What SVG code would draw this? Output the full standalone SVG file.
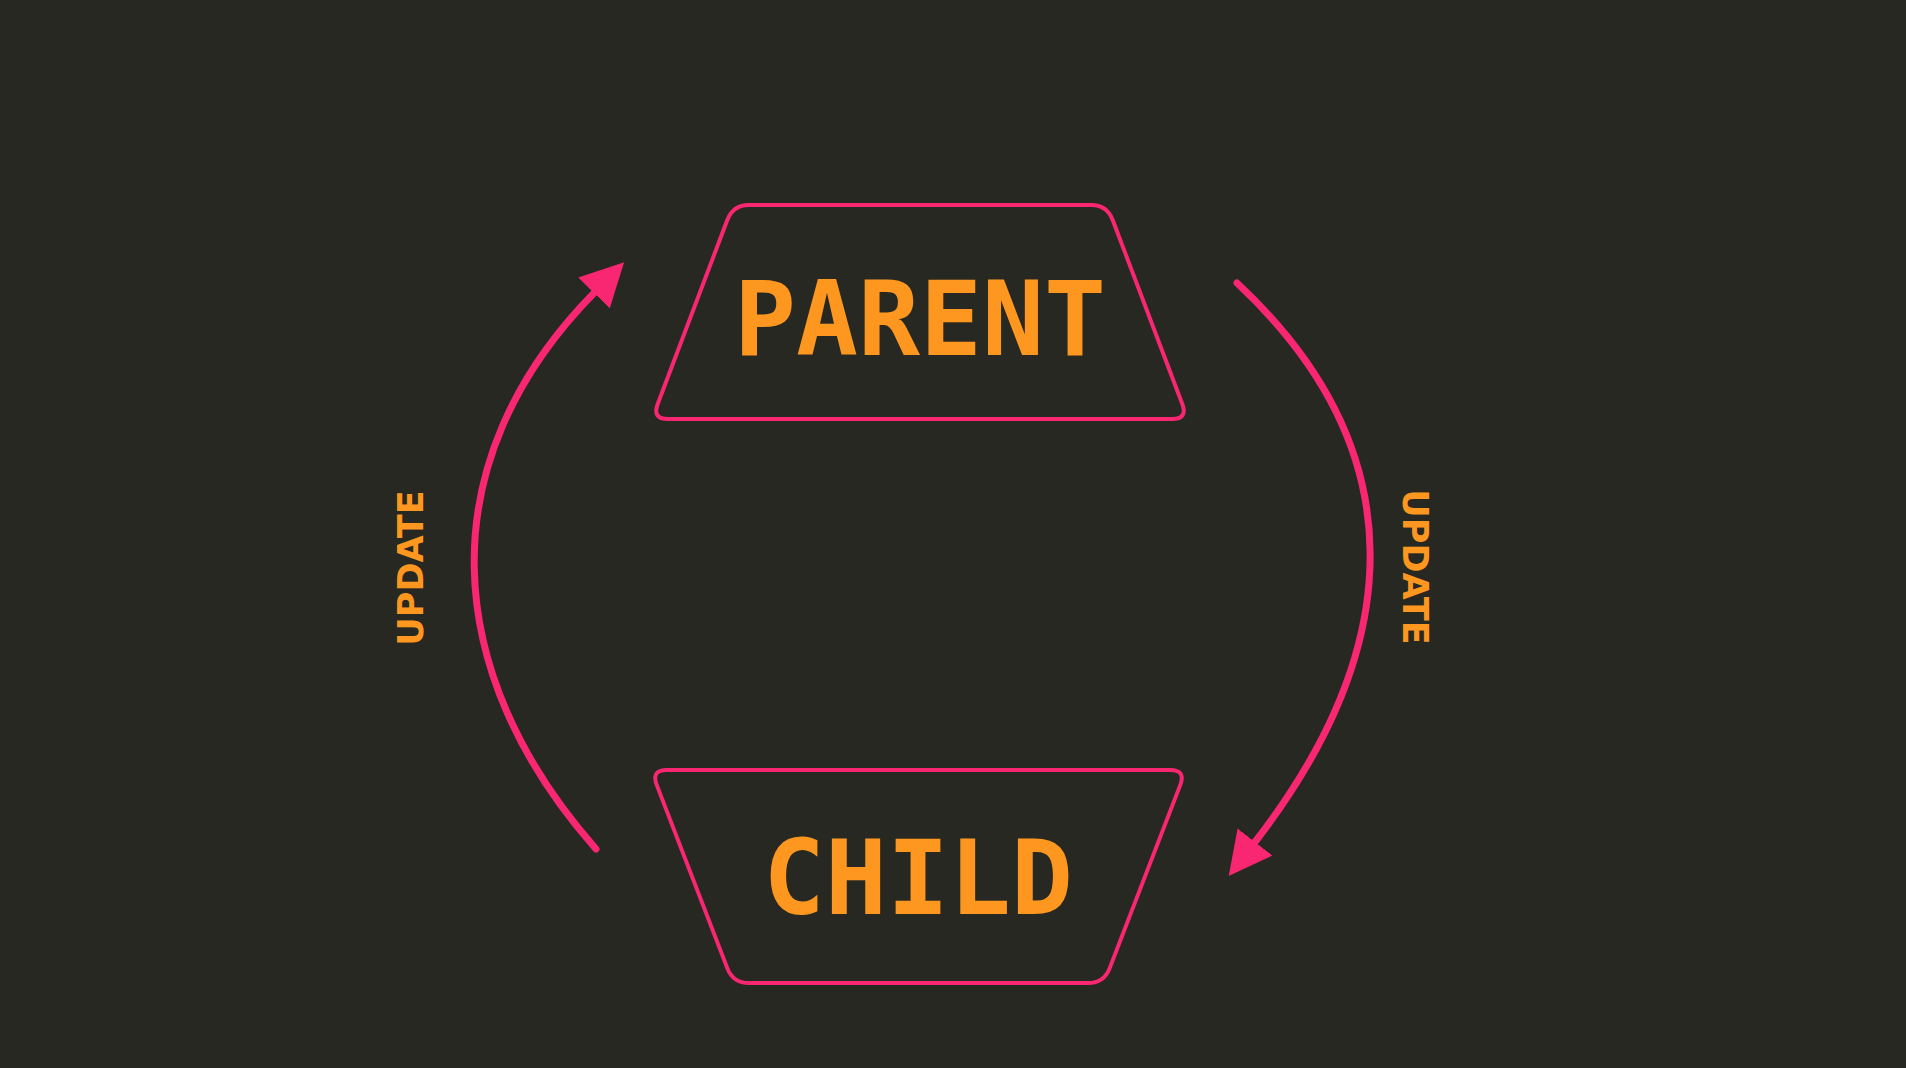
<svg xmlns="http://www.w3.org/2000/svg" width="1906" height="1068" viewBox="0 0 1906 1068">
<style>
.node{fill:#272822;stroke:#F92672;stroke-width:4;stroke-linejoin:round}
.title{font-family:"DejaVu Sans Mono",monospace;font-weight:bold;font-size:103px;fill:#FD971F;text-anchor:middle}
.lbl{font-family:"DejaVu Sans",sans-serif;font-weight:bold;font-size:35px;fill:#FD971F;text-anchor:middle}
.edge{fill:none;stroke:#F92672;stroke-width:7;stroke-linecap:round}
</style>
<defs>
<marker id="ah" markerUnits="userSpaceOnUse" markerWidth="50" markerHeight="50" viewBox="0 -25 50 50" refX="0" refY="0" orient="auto">
<path d="M0,-22 L43,0 L0,22 Z" fill="#F92672"/>
</marker>
</defs>
<rect width="1906" height="1068" fill="#272822"/>
<g id="connectors">
<path class="edge" d="M596,849 C440,672 428,462 594,293" marker-end="url(#ah)"/>
<path class="edge" d="M1237,283 C1417,451 1406,647 1255,842" marker-end="url(#ah)"/>
<text class="lbl" transform="translate(423,568) rotate(-90)">UPDATE</text>
<text class="lbl" transform="translate(1403,567) rotate(90)">UPDATE</text>
</g>
<g id="parent">
<path class="node" d="M749,205 L1091,205 Q1107,205 1112.7,220 L1182.3,404 Q1188,419 1172,419 L668,419 Q652,419 657.7,404 L727.3,220 Q733,205 749,205 Z"/>
<text class="title" x="920" y="355">PARENT</text>
</g>
<g id="child">
<path class="node" d="M667,770 L1170,770 Q1186,770 1180.3,784.9 L1109.7,968.1 Q1104,983 1088,983 L749,983 Q733,983 727.3,968.1 L656.7,784.9 Q651,770 667,770 Z"/>
<text class="title" x="918" y="914">CHILD</text>
</g>
</svg>
